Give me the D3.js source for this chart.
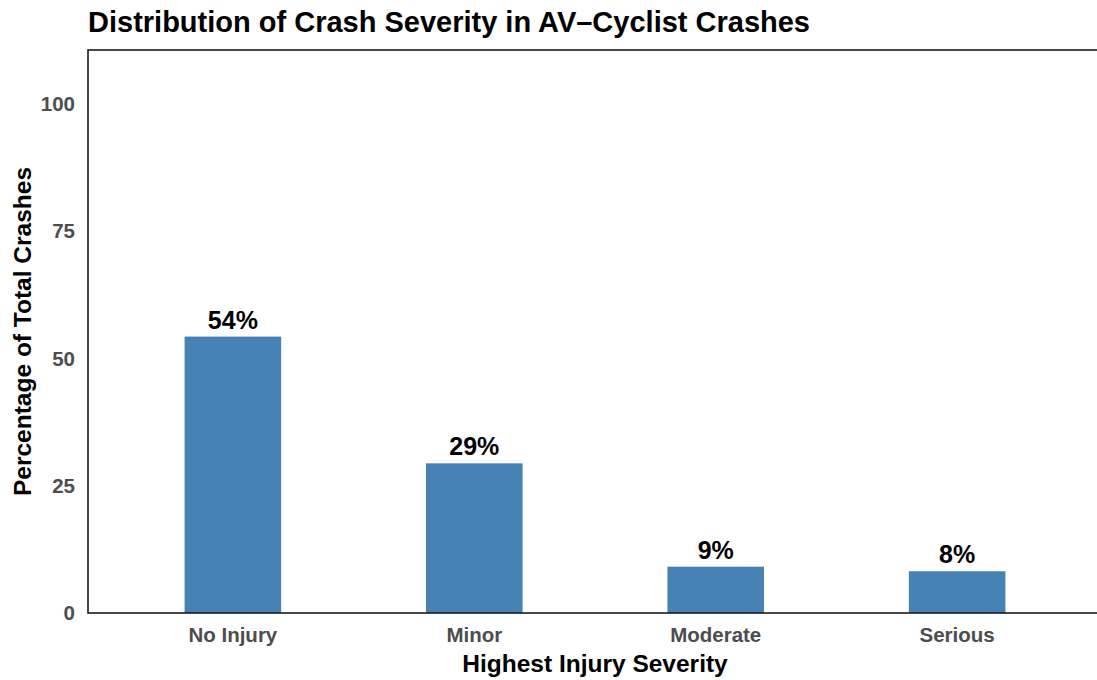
<!DOCTYPE html>
<html>
<head>
<meta charset="utf-8">
<script src="https://cdn.jsdelivr.net/npm/d3@7"></script>
<style>
  body { margin: 0; background: #fff; }
  svg { display: block; font-family: "Liberation Sans", Arial, sans-serif; }
</style>
</head>
<body>
<svg id="chart"></svg>
<script>
const categories = ["No Injury", "Minor", "Moderate", "Serious"];
const percents = [54.3, 29.4, 9.1, 8.2];
const labels = ["54%", "29%", "9%", "8%"];
const yTicks = [0, 25, 50, 75, 100];

const width = 1097, height = 680;
const margin_left = 88, margin_top = 50, margin_bottom = 67;
const plot_right = 1102; // plot panel runs slightly past the page edge
const effective_width = plot_right - margin_left;
const effective_height = height - margin_top - margin_bottom;

const svg = d3.select("#chart").attr("width", width).attr("height", height);

// ggplot-style discrete axis: 0.6 units of expansion on each side
const xPos = d3.scaleLinear()
    .domain([0.4, categories.length + 0.6])
    .range([margin_left, plot_right]);
const unit = xPos(2) - xPos(1);
const barWidth = unit * 0.4;

const yAxis = d3.scaleLinear()
    .domain([0, 110.6])
    .range([margin_top + effective_height, margin_top]);

svg.append("text")
    .attr("x", margin_left)
    .attr("y", 32)
    .style("font-size", "29px")
    .style("font-weight", "bold")
    .attr("fill", "#000")
    .text("Distribution of Crash Severity in AV\u2013Cyclist Crashes");

// bars
svg.append("g")
    .selectAll("rect")
    .data(categories)
    .enter()
    .append("rect")
        .attr("x", (d, i) => xPos(i + 1) - barWidth / 2)
        .attr("width", barWidth)
        .attr("y", (d, i) => yAxis(percents[i]))
        .attr("height", (d, i) => yAxis(0) - yAxis(percents[i]))
        .attr("fill", "#4682b4");

// value labels
svg.append("g")
    .selectAll("text")
    .data(categories)
    .enter()
    .append("text")
        .attr("x", (d, i) => xPos(i + 1))
        .attr("y", (d, i) => yAxis(percents[i]) - 8)
        .attr("text-anchor", "middle")
        .style("font-size", "25px")
        .style("font-weight", "bold")
        .attr("fill", "#000")
        .text((d, i) => labels[i]);

// panel border (left, top, bottom)
svg.append("rect")
    .attr("x", margin_left)
    .attr("y", margin_top)
    .attr("width", effective_width)
    .attr("height", effective_height)
    .attr("fill", "none")
    .attr("stroke", "#1a1a1a")
    .attr("stroke-width", 1.6);

// y tick labels
svg.append("g")
    .attr("transform", "translate(" + margin_left + ",0)")
    .call(d3.axisLeft(yAxis).tickValues(yTicks).tickSize(0).tickPadding(13))
    .call(g => g.select(".domain").remove())
    .call(g => g.selectAll("text")
        .attr("fill", "#4d4d4d")
        .style("font-size", "20.5px")
        .style("font-weight", "bold")
        .style("font-family", "Liberation Sans, Arial, sans-serif"));

// x tick labels
svg.append("g")
    .selectAll("text")
    .data(categories)
    .enter()
    .append("text")
        .attr("x", (d, i) => xPos(i + 1))
        .attr("y", yAxis(0) + 29)
        .attr("text-anchor", "middle")
        .style("font-size", "20.5px")
        .style("font-weight", "bold")
        .attr("fill", "#4d4d4d")
        .text(d => d);

// axis titles
svg.append("text")
    .attr("x", margin_left + effective_width / 2)
    .attr("y", 672)
    .attr("text-anchor", "middle")
    .style("font-size", "24.5px")
    .style("font-weight", "bold")
    .attr("fill", "#000")
    .text("Highest Injury Severity");

svg.append("text")
    .attr("transform", "rotate(-90)")
    .attr("x", -(margin_top + effective_height / 2))
    .attr("y", 31)
    .attr("text-anchor", "middle")
    .style("font-size", "24.5px")
    .style("font-weight", "bold")
    .attr("fill", "#000")
    .text("Percentage of Total Crashes");
</script>
</body>
</html>
